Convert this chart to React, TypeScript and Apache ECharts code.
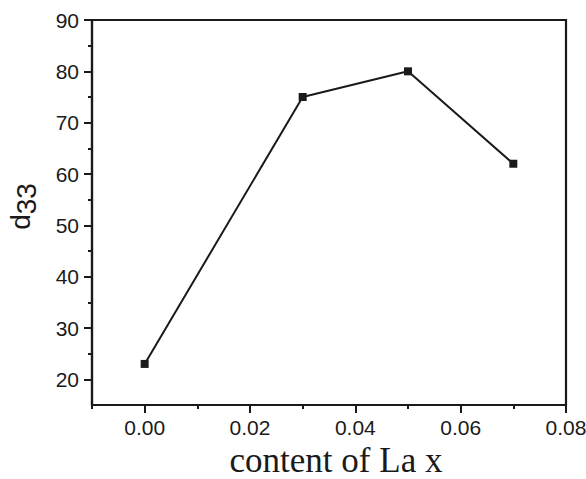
import React, { useEffect, useRef } from "react";
import * as echarts from "echarts";

const xValues = [0.0, 0.03, 0.05, 0.07];
const d33Values = [23, 75, 80, 62];
const xMajorTicks = [0.0, 0.02, 0.04, 0.06, 0.08];
const xMinorTicks = [-0.01, 0.01, 0.03, 0.05, 0.07];
const yMajorTicks = [20, 30, 40, 50, 60, 70, 80, 90];
const yMinorTicks = [25, 35, 45, 55, 65, 75, 85];

export default function App() {
  const ref = useRef<HTMLDivElement>(null);
  useEffect(() => {
    if (!ref.current) return;
    const chart = echarts.init(ref.current, null, { renderer: "svg" });
    const ink = "#1a1a1a";
    const sans = "Liberation Sans, Arial, sans-serif";
    const serif = "Liberation Serif, Times New Roman, serif";
    const common = {
      min: -0.01,
      max: 0.08,
      type: "value" as const,
      splitLine: { show: false },
    };
    const yCommon = {
      min: 15,
      max: 90,
      type: "value" as const,
      splitLine: { show: false },
    };
    chart.setOption({
      animation: false,
      backgroundColor: "#ffffff",
      grid: {
        left: 92,
        right: 20,
        top: 20,
        bottom: 74,
        show: true,
        borderColor: ink,
        borderWidth: 2.2,
        containLabel: false,
        outerBoundsMode: "none",
      },
      xAxis: [
        {
          ...common,
          position: "bottom",
          axisLine: { show: true, onZero: false, lineStyle: { color: ink, width: 2.2 } },
          axisTick: { show: true, inside: false, length: 8, customValues: xMajorTicks, lineStyle: { color: ink, width: 2 } },
          axisLabel: {
            show: true,
            customValues: xMajorTicks,
            margin: 12,
            fontSize: 21,
            fontFamily: sans,
            color: ink,
            formatter: (v: number) => v.toFixed(2),
          },
          name: "content of La x",
          nameLocation: "middle",
          nameGap: 37,
          nameTextStyle: { fontSize: 35, lineHeight: 30, fontFamily: serif, color: ink, padding: [0, 0, 0, 14] },
        },
        {
          ...common,
          position: "bottom",
          axisLine: { show: false, onZero: false },
          axisTick: { show: true, inside: false, length: 4, customValues: xMinorTicks, lineStyle: { color: ink, width: 2 } },
          axisLabel: { show: false },
        },
      ],
      yAxis: [
        {
          ...yCommon,
          position: "left",
          axisLine: { show: true, onZero: false, lineStyle: { color: ink, width: 2.2 } },
          axisTick: { show: true, inside: false, length: 8, customValues: yMajorTicks, lineStyle: { color: ink, width: 2 } },
          axisLabel: {
            show: true,
            customValues: yMajorTicks,
            margin: 13,
            fontSize: 21,
            fontFamily: sans,
            color: ink,
          },
          name: "d{sub|33}",
          nameLocation: "middle",
          nameGap: 52,
          nameRotate: 90,
          nameTextStyle: {
            fontSize: 28,
            fontFamily: sans,
            color: ink,
            padding: [0, 0, 0, 12],
            rich: {
              sub: { fontSize: 28, fontFamily: sans, color: ink, padding: [12, 0, 0, 0] },
            },
          },
        },
        {
          ...yCommon,
          position: "left",
          axisLine: { show: false, onZero: false },
          axisTick: { show: true, inside: false, length: 4, customValues: yMinorTicks, lineStyle: { color: ink, width: 2 } },
          axisLabel: { show: false },
        },
      ],
      series: [
        {
          type: "line",
          xAxisIndex: 0,
          yAxisIndex: 0,
          data: xValues.map((x, i) => [x, d33Values[i]]),
          symbol: "rect",
          symbolSize: 8,
          lineStyle: { color: ink, width: 2 },
          itemStyle: { color: ink },
        },
      ],
    });
    return () => chart.dispose();
  }, []);
  return <div ref={ref} style={{ width: 586, height: 479, position: "absolute", left: 0, top: 0 }} />;
}
